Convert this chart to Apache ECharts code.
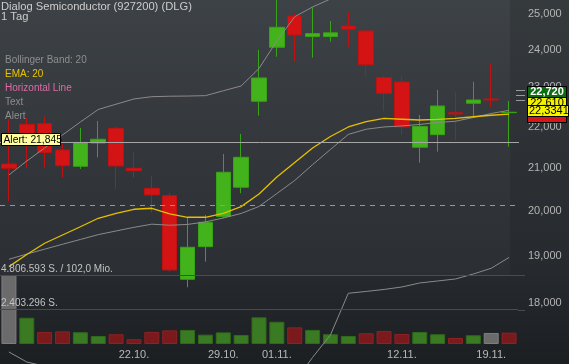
<!DOCTYPE html>
<html><head><meta charset="utf-8">
<script src="https://cdn.jsdelivr.net/npm/echarts@6/dist/echarts.min.js"></script>
<style>html,body{margin:0;padding:0;background:#2a2d31;}#c{width:569px;height:364px;}</style>
</head><body><div id="c"></div>
<script>
// ---- data ----
const categories = ['11.10.','12.10.','15.10.','16.10.','17.10.','18.10.','19.10.','22.10.','23.10.','24.10.','25.10.','26.10.','29.10.','30.10.','31.10.','01.11.','02.11.','05.11.','06.11.','07.11.','08.11.','09.11.','12.11.','13.11.','14.11.','15.11.','16.11.','19.11.','20.11.'];
const dateTicks = ['22.10.','29.10.','01.11.','12.11.','19.11.'];
const openV  = [21085,22058,22075,21423,21030,21594,21957,20982,20511,20340,18498,19196,19862,20535,22641,24073,24943,24367,24367,24661,24522,23261,23142,21490,21799,22349,22590,22700,22350];
const closeV = [20982,21668,21362,21045,21607,21685,21038,20925,20357,18694,19182,19734,20888,21246,23248,24625,24410,24451,24470,24569,23597,22845,21990,22000,22520,22317,22674,22674,22360];
const lowV   = [20206,20990,20997,20760,20966,21241,20502,20765,19951,18658,18331,18872,19824,20396,22273,23817,23682,23791,24224,24090,23282,22386,21791,21116,21382,21668,22226,22502,21504];
const highV  = [22190,22215,22248,21570,21965,22140,21998,21392,20800,20403,19838,19899,21326,21817,23999,25500,25000,25191,24802,25048,24566,23307,23300,22290,22933,22889,23150,23650,22648];
const volumes = [4806593,1830000,840000,880000,820000,560000,680000,330000,840000,950000,980000,650000,810000,630000,1860000,1550000,1160000,980000,680000,560000,750000,910000,700000,840000,680000,420000,610000,770000,790000];
const ema20  = [18765,19025,19270,19452,19634,19824,19937,20028,20051,19926,19847,19847,19933,20088,20380,20777,21121,21472,21754,21990,22122,22203,22183,22165,22178,22208,22246,22284,22311];
const bbMid  = [18923,19035,19141,19248,19353,19459,19541,19621,19692,19668,19686,19742,19831,19933,20092,20389,20694,21069,21435,21804,21933,21990,22015,22053,22103,22133,22228,22329,22410];
const bbUpper= [20824,21157,21472,21792,22115,22431,22566,22700,22759,22771,22776,22786,22912,23038,23500,24246,24923,25200,25429,25480,25622,25695,25693,25686,25744,25762,25847,25928,25858];
const bbLower= [17032,16839,16760,16704,16591,16487,16516,16542,16625,16565,16596,16698,16700,16700,16684,16532,16465,16928,17364,18206,18244,18285,18337,18420,18462,18504,18609,18730,18962];
const priceTicks = [18000,19000,20000,21000,22000,23000,24000,25000];
const volTicks = [2403296,4806593];
const volTickLabels = ['2.403.296 S.','4.806.593 S. / 102,0 Mio.'];
const alertLevel = 21610;
const hLineLevel = 20125;
const priceTags = ['22,720','22,610','22,3341'];

// ---- helpers ----
const FONT = '"Liberation Sans", Arial, sans-serif';
const fmtPrice = v => String(Math.round(v)).replace(/\B(?=(\d{3})+(?!\d))/g, ',');
const candleData = openV.map((o,i)=>[o, closeV[i], lowV[i], highV[i]]);
const volData = volumes.map((v,i)=>{
  let c = '#6b6b6b', b = '#7e7e7e';
  if (i > 0) {
    if (closeV[i] > closeV[i-1]) { c = '#3a7a22'; b = '#2f6a1b'; }
    else if (closeV[i] < closeV[i-1]) { c = '#7a1a1c'; b = '#8c2224'; }
  }
  return {value: v, itemStyle: {color: c, borderColor: b}};
});

const chart = echarts.init(document.getElementById('c'), null, {renderer:'canvas'});

function txt(text, x, y, fill, size, extra, z) {
  return {type:'text', silent:true, z: z || 50, style: Object.assign({text, x, y, fill, fontSize:size, fontFamily:FONT, verticalAlign:'middle'}, extra||{})};
}
function box(x, y, w, h, fill, z) {
  return {type:'rect', silent:true, z: z||60, shape:{x, y, width:w, height:h}, style:{fill, stroke:'#000', lineWidth:1}};
}

const baseGraphic = [
    {type:'rect', silent:true, z:-30, shape:{x:0,y:0,width:569,height:364},
     style:{fill:{type:'linear',x:0,y:0,x2:0,y2:1,colorStops:[{offset:0,color:'#353a3d'},{offset:0.75,color:'#26292d'},{offset:1,color:'#1c1f22'}]}}},
    {type:'rect', silent:true, z:-29, shape:{x:0,y:0,width:510,height:275},
     style:{fill:{type:'linear',x:0,y:0,x2:0,y2:1,colorStops:[{offset:0,color:'#3d4246'},{offset:1,color:'#2b2e32'}]}}},
    txt('Dialog Semiconductor (927200) (DLG)', 1, 6.5, '#cdcdcd', 11.2),
    txt('1 Tag', 1, 16.5, '#cdcdcd', 11.2),
    txt('Bollinger Band: 20', 5, 60.7, '#8e8e8e', 10),
    txt('EMA: 20', 5, 74.5, '#e8c400', 10),
    txt('Horizontal Line', 5, 88.5, '#e06aa6', 10),
    txt('Text', 5, 102.5, '#8e8e8e', 10),
    txt('Alert', 5, 116.5, '#8e8e8e', 10),
    box(1.5, 133.5, 59, 12, '#ffffa0', 60),
    txt('Alert: 21,845', 3.5, 140, '#000000', 10.3, {}, 70),
    {type:'line', silent:true, z:55, shape:{x1:516,y1:90.5,x2:525,y2:90.5}, style:{stroke:'#9a9a9a', lineWidth:1}},
    {type:'line', silent:true, z:55, shape:{x1:516,y1:95.5,x2:525,y2:95.5}, style:{stroke:'#9a9a9a', lineWidth:1}},
    {type:'line', silent:true, z:55, shape:{x1:516,y1:100.5,x2:525,y2:100.5}, style:{stroke:'#9a9a9a', lineWidth:1}},
    {type:'line', silent:true, z:55, shape:{x1:518,y1:275.5,x2:525,y2:275.5}, style:{stroke:'#484b4f', lineWidth:1}},
    {type:'line', silent:true, z:55, shape:{x1:518,y1:310.5,x2:525,y2:310.5}, style:{stroke:'#484b4f', lineWidth:1}},
    box(527.5, 111.5, 39, 11, '#d41818', 60),
    box(527.5, 86.5, 39, 11, '#0d6b12', 61),
    txt(priceTags[0], 547, 92, '#ffffff', 11, {align:'center', fontWeight:'bold'}, 71),
    box(527.5, 97.5, 39, 10, '#f2f200', 72),
    txt(priceTags[1], 547, 102.5, '#000000', 11, {align:'center'}, 73),
    box(527.5, 105.5, 41, 11, '#f5f500', 74),
    txt(priceTags[2], 529, 111, '#000000', 11, {}, 75)
];

const option = {
  animation: false,
  backgroundColor: 'transparent',
  grid: [
    {left:0, right:51, top:0, bottom:0},
    {left:0, right:51, top:275, bottom:20}
  ],
  xAxis: [
    {type:'category', data:categories, gridIndex:0, boundaryGap:true, show:false},
    {type:'category', data:categories, gridIndex:1, boundaryGap:true,
     axisLine:{show:false}, axisTick:{show:false}, splitLine:{show:false},
     axisLabel:{interval:(i,v)=>dateTicks.indexOf(v) >= 0, color:'#b8b8b8', fontSize:11, fontFamily:FONT, margin:5}}
  ],
  yAxis: [
    {type:'log', logBase:10, gridIndex:0, min:16801, max:25400, position:'right', show:false},
    {type:'value', gridIndex:1, min:0, max:4806593, show:false}
  ],
  graphic: baseGraphic,
  series: [
    {
      type:'candlestick', xAxisIndex:0, yAxisIndex:0, data:candleData, barWidth:15, z:2, clip:true,
      itemStyle:{color:'#43b31b', color0:'#d41414', borderColor:'#38a314', borderColor0:'#be1212', borderWidth:1}
    },
    {type:'line', name:'BB mid', xAxisIndex:0, yAxisIndex:0, data:bbMid, showSymbol:false, z:3, clip:true, lineStyle:{color:'#8a8a8a', width:1}},
    {type:'line', name:'BB upper', xAxisIndex:0, yAxisIndex:0, data:bbUpper, showSymbol:false, z:3, clip:true, lineStyle:{color:'#8a8a8a', width:1}},
    {type:'line', name:'BB lower', xAxisIndex:0, yAxisIndex:0, data:bbLower, showSymbol:false, z:3, clip:true, lineStyle:{color:'#8a8a8a', width:1},
      markLine:{silent:true, symbol:'none', animation:false,
        lineStyle:{color:'rgba(0,0,0,0)', width:0},
        data: priceTicks.map(v=>({yAxis:v, label:{show:true, position:'end', distance:10, formatter:fmtPrice(v), color:'#b4b4b4', fontSize:11, fontFamily:FONT}}))
      }
    },
    {type:'line', name:'EMA', xAxisIndex:0, yAxisIndex:0, data:ema20, showSymbol:false, z:4, clip:true, lineStyle:{color:'#e6c000', width:1.3}},
    {
      type:'bar', xAxisIndex:1, yAxisIndex:1, data:volData, barWidth:15, z:2,
      itemStyle:{borderWidth:1},
      markLine:{silent:true, symbol:'none', animation:false,
        lineStyle:{color:'#484b4f', width:1, type:'solid'},
        data: volTicks.map((v,i)=>({yAxis:v, label:{show:true, position:'insideStartTop', distance:[1,1], formatter:volTickLabels[i], color:'#c2c2c2', fontSize:10, fontFamily:FONT}}))
      }
    }
  ]
};
chart.setOption(option);

// horizontal annotation lines placed through the library's own y scale
const yAlert = Math.round(chart.convertToPixel({yAxisIndex:0}, alertLevel)) + 0.5;
const yH = Math.round(chart.convertToPixel({yAxisIndex:0}, hLineLevel)) + 0.5;
chart.setOption({graphic: baseGraphic.concat([
  {type:'line', silent:true, z:10, shape:{x1:0,y1:yAlert,x2:519,y2:yAlert}, style:{stroke:'#a6a6a6', lineWidth:1}},
  {type:'line', silent:true, z:10, shape:{x1:0,y1:yH,x2:516,y2:yH}, style:{stroke:'#e0709f', lineWidth:1, lineDash:[5,5]}}
])});
</script></body></html>
